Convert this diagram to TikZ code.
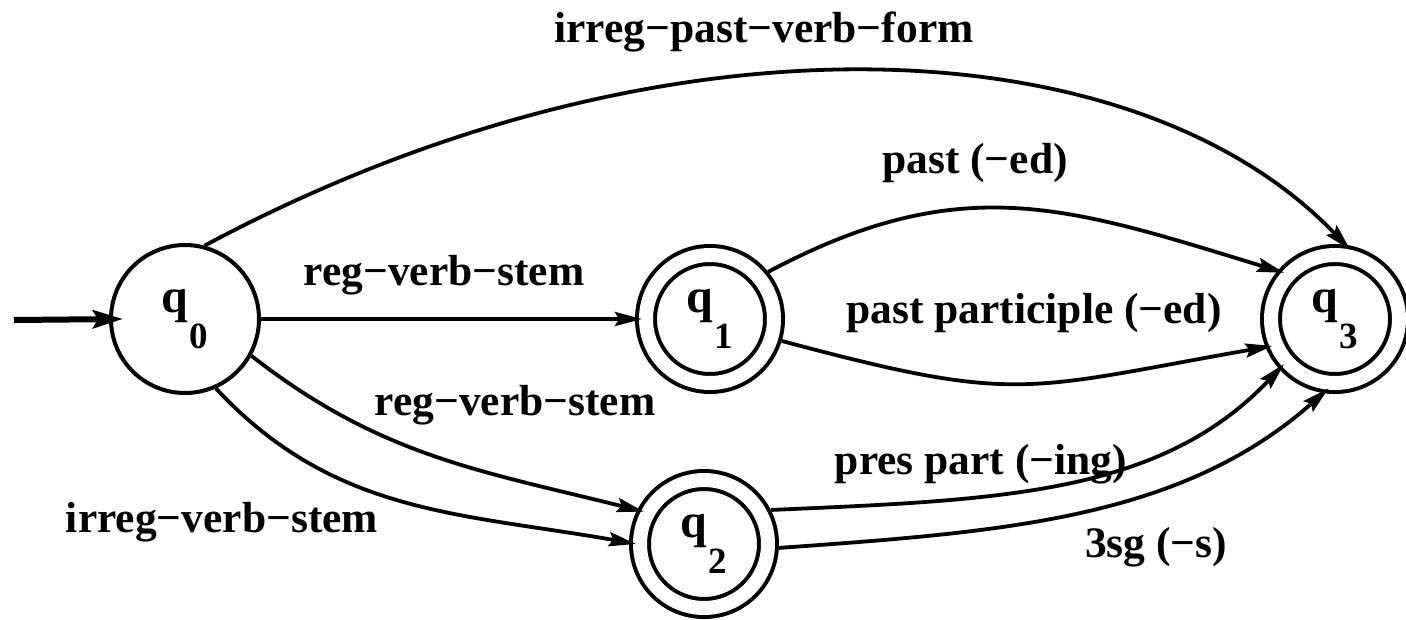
\documentclass[tikz,border=0pt]{standalone}
\usepackage{fontspec}
\setmainfont{Liberation Serif}
\usetikzlibrary{arrows.meta}
\newcommand\qstate[1]{q\hspace{1pt}\raisebox{-36pt}{\fontsize{37pt}{37pt}\selectfont #1}}
\tikzset{
  every node/.style={font=\bfseries\fontsize{43.5pt}{44pt}\selectfont},
  plainstate/.style={draw, circle, line width=4pt, minimum size=148pt, inner sep=0pt,
    font=\bfseries\fontsize{48pt}{48pt}\selectfont},
  acceptstate/.style={draw, circle, line width=4pt, double, double distance=14pt,
    minimum size=128pt, inner sep=0pt, outer sep=11pt,
    font=\bfseries\fontsize{48pt}{48pt}\selectfont},
  edgelabel/.style={anchor=base, inner sep=0pt},
  trans/.style={line width=3.8pt, -{Stealth[length=27pt,width=14pt,inset=4pt]}},
  intoacc/.style={trans, shorten >=-7pt},
  initarrow/.style={line width=6pt, -{Stealth[length=30pt,width=18pt,inset=5pt]}}
}
\begin{document}
\begin{tikzpicture}[x=1pt,y=1pt]
\useasboundingbox[fill=white] (0,0) rectangle (1406,-619);
% states
\node[plainstate]  (q0) at (185,-319)  {\qstate{0}};
\node[acceptstate] (q1) at (710,-319)  {\qstate{1}};
\node[acceptstate] (q2) at (704,-544)  {\qstate{2}};
\node[acceptstate] (q3) at (1335,-319) {\qstate{3}};
% initial arrow
\coordinate (init) at (14,-320);
\draw[initarrow] (init) -- ([xshift=14pt]q0.west);
% transitions
\draw[intoacc] (q0.75) .. controls (662,-1) and (1134,-24) .. (q3.82);
\draw[intoacc] (q0) -- (q1);
\draw[intoacc] (q1.39) to[out=28,in=163,looseness=1.1] (q3.140);
\draw[intoacc] (q1.-17) to[out=-15,in=-170,looseness=1.3] (q3.202);
\draw[intoacc] (q0.-29) to[out=-38,in=166] (q2.153);
\draw[intoacc] (q0.-66) to[out=-47,in=170] (q2.179);
\draw[intoacc] (q2.27) .. controls (1000,-500) and (1160,-495) .. (q3.222);
\draw[intoacc] (q2.-3) .. controls (1000,-532) and (1180,-520) .. (q3.261);
% labels
\node[edgelabel] (l1) at (764,-42)  {irreg−past−verb−form};
\node[edgelabel] (l2) at (444,-285) {reg−verb−stem};
\node[edgelabel] (l3) at (975,-173) {past (−ed)};
\node[edgelabel] (l4) at (1034,-323) {past participle (−ed)};
\node[edgelabel] (l5) at (515,-415) {reg−verb−stem};
\node[edgelabel] (l6) at (222,-532) {irreg−verb−stem};
\node[edgelabel] (l7) at (981,-474) {pres part (−ing)};
\node[edgelabel] (l8) at (1156,-557) {3sg (−s)};
\end{tikzpicture}
\end{document}
